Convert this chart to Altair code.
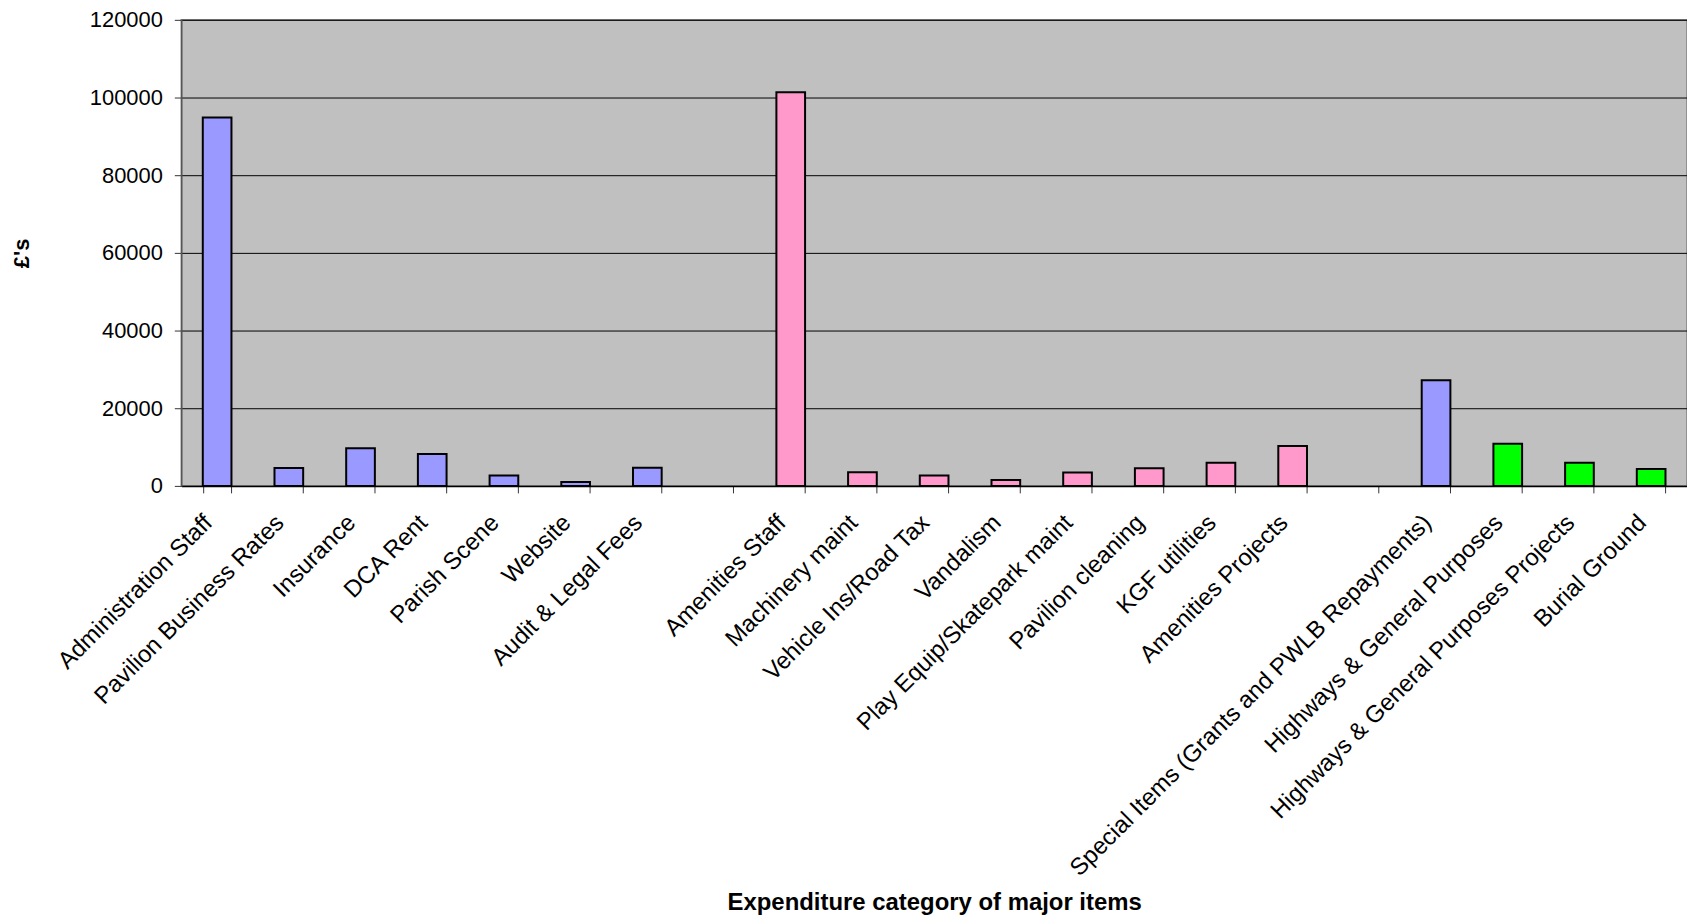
import altair as alt
import pandas as pd

categories = [
    "Administration Staff", "Pavilion Business Rates", "Insurance", "DCA Rent",
    "Parish Scene", "Website", "Audit & Legal Fees", " ",
    "Amenities Staff", "Machinery maint", "Vehicle Ins/Road Tax", "Vandalism",
    "Play Equip/Skatepark maint", "Pavilion cleaning", "KGF utilities",
    "Amenities Projects", "  ",
    "Special Items (Grants and PWLB Repayments)", "Highways & General Purposes",
    "Highways & General Purposes Projects", "Burial Ground",
]
values = [94870, 4600, 9670, 8200, 2650, 1030, 4700, None,
          101370, 3500, 2650, 1540, 3420, 4530, 5980, 10250, None,
          27180, 10850, 5980, 4360]
groups = ["Admin"] * 7 + [None] + ["Amenities"] * 8 + [None] + \
         ["Admin", "Highways", "Highways", "Highways"]

group_names = ["Admin", "Amenities", "Highways"]
group_colors = ["#9999FF", "#FF99CC", "#00FF00"]
y_ticks = [0, 20000, 40000, 60000, 80000, 100000, 120000]

rows = [
    {"category": c, "value": v, "group": g}
    for c, v, g in zip(categories, values, groups) if v is not None
]
df = pd.DataFrame(rows)

FONT = "Liberation Sans"

chart = alt.Chart(df).mark_bar(stroke="black", strokeWidth=2).encode(
    x=alt.X(
        "category:N",
        sort=categories,
        scale=alt.Scale(domain=categories, paddingInner=0.6, paddingOuter=0.3),
        axis=alt.Axis(
            title="Expenditure category of major items",
            labelAngle=-45, labelAlign="right", labelBaseline="middle",
            labelFont=FONT, labelFontSize=24, labelColor="black",
            labelPadding=26, labelOffset=-9, labelLimit=1000, labelOverlap=False,
            tickBand="extent", tickSize=7, tickColor="#333333",
            domainColor="black", domainWidth=1.5,
            titleFont=FONT, titleFontSize=24, titleFontWeight="bold",
            titleColor="black", titleY=418, titleBaseline="middle",
            grid=False,
        ),
    ),
    y=alt.Y(
        "value:Q",
        scale=alt.Scale(domain=[0, 120000], nice=False),
        axis=alt.Axis(
            title="£'s", values=y_ticks, format="d",
            labelFont=FONT, labelFontSize=22, labelColor="black",
            labelPadding=12, tickSize=7, tickColor="#333333",
            domainColor="#555555", domainWidth=1.5,
            grid=True, gridColor="black", gridWidth=1,
            titleFont=FONT, titleFontSize=22, titleFontWeight="bold",
            titleColor="black", titleAngle=270, titleX=-160, titleY=234,
            titleBaseline="middle", titleAlign="center",
        ),
    ),
    color=alt.Color(
        "group:N",
        scale=alt.Scale(domain=group_names, range=group_colors),
        legend=None,
    ),
).properties(
    width=1512,
    height=468,
    background="white",
    padding={"left": 174, "top": 10, "right": 0, "bottom": 430},
    autosize=alt.AutoSizeParams(type="none"),
).configure_view(fill="#C0C0C0", stroke="#808080", strokeWidth=1.5)

chart.save("out.html", embed_options={"renderer": "svg", "actions": False})
